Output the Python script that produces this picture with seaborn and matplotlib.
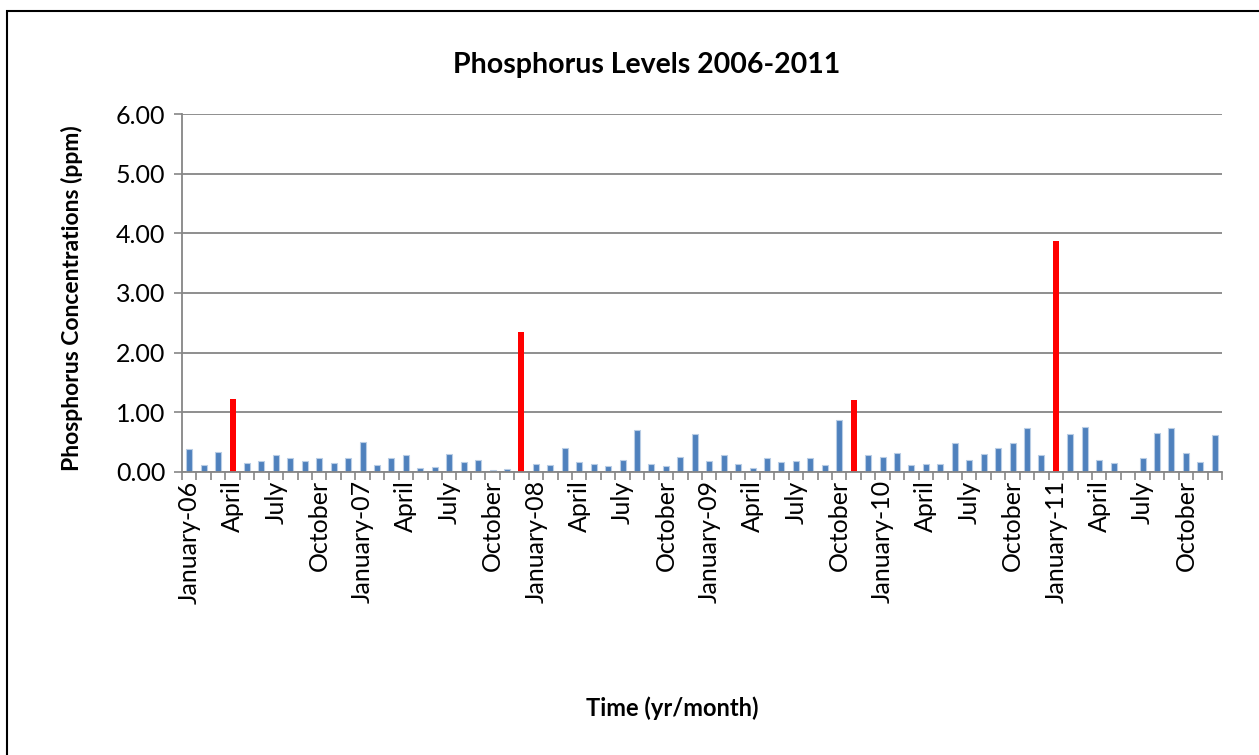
import numpy as np
import pandas as pd
import matplotlib
matplotlib.use("Agg")
import matplotlib.pyplot as plt
import seaborn as sns
from matplotlib.patches import Rectangle

# ---- data ----
years = [2006, 2007, 2008, 2009, 2010, 2011]
month_names = ["January", "February", "March", "April", "May", "June", "July",
               "August", "September", "October", "November", "December"]
values = [
    # 2006
    0.38, 0.11, 0.34, 1.23, 0.15, 0.18, 0.29, 0.24, 0.19, 0.24, 0.15, 0.24,
    # 2007
    0.51, 0.11, 0.24, 0.28, 0.07, 0.08, 0.31, 0.17, 0.20, 0.04, 0.05, 2.35,
    # 2008
    0.13, 0.12, 0.40, 0.16, 0.14, 0.10, 0.20, 0.71, 0.14, 0.10, 0.25, 0.63,
    # 2009
    0.19, 0.29, 0.13, 0.06, 0.24, 0.17, 0.19, 0.24, 0.11, 0.87, 1.20, 0.28,
    # 2010
    0.25, 0.32, 0.12, 0.13, 0.13, 0.48, 0.20, 0.30, 0.40, 0.49, 0.74, 0.29,
    # 2011
    3.87, 0.64, 0.76, 0.20, 0.15, np.nan, 0.23, 0.66, 0.74, 0.32, 0.16, 0.62,
]
highlight = [3, 23, 46, 60]   # months shown in red
y_ticks = [0, 1, 2, 3, 4, 5, 6]

months = [f"{y}-{m:02d}" for y in years for m in range(1, 13)]
tick_labels = []
for y in years:
    for m in range(12):
        if m % 3 == 0:
            tick_labels.append(f"{month_names[m]}-{str(y)[2:]}" if m == 0 else month_names[m])

df = pd.DataFrame({"month": months, "value": values})
df["group"] = ["red" if i in highlight else "blue" for i in range(len(df))]

BLUE = "#4F81BD"
RED = "#FF0000"
GRID = "#868686"

plt.rcParams["font.family"] = ["Lato", "DejaVu Sans"]

fig = plt.figure(figsize=(12.59, 7.55), dpi=100)
ax = fig.add_axes([182 / 1259, 1 - 472 / 755, (1222 - 182) / 1259, (472 - 114) / 755])

sns.barplot(data=df, x="month", y="value", hue="group",
            palette={"blue": BLUE, "red": RED}, dodge=False, width=0.42,
            legend=False, ax=ax, saturation=1)

for p in ax.patches:
    if matplotlib.colors.to_hex(p.get_facecolor()).lower() == BLUE.lower():
        p.set_edgecolor("#B9CDE5")
        p.set_linewidth(0.8)

n = len(months)
ax.set_xlim(-0.5, n - 0.5)
ax.set_ylim(0, 6)
ax.set_yticks(y_ticks)
ax.set_yticklabels([f"{v:.2f}" for v in y_ticks], fontsize=18)
ax.set_xticks(np.arange(0, n, 3))
ax.set_xticklabels(tick_labels, rotation=90, fontsize=18, va="top", ha="center")
ax.set_xticks(np.arange(-0.5, n, 1), minor=True)
ax.tick_params(axis="x", which="major", length=0, pad=6)
ax.tick_params(axis="x", which="minor", length=6, width=1.2, color=GRID, direction="out")
ax.tick_params(axis="y", length=6, width=1.2, color=GRID, direction="out", pad=6)

ax.yaxis.grid(True, color=GRID, linewidth=1.3)
ax.set_axisbelow(True)
for s in ["top", "right"]:
    ax.spines[s].set_visible(False)
for s in ["left", "bottom"]:
    ax.spines[s].set_color(GRID)
    ax.spines[s].set_linewidth(1.3)

ax.set_xlabel("")
ax.set_ylabel("")
fig.text(647 / 1259, 1 - 65 / 755, "Phosphorus Levels 2006-2011", fontsize=20.5,
         fontweight="bold", ha="center", va="center")
fig.text(72 / 1259, 1 - 298 / 755, "Phosphorus Concentrations (ppm)", fontsize=16.5,
         fontweight="bold", ha="center", va="center", rotation=90)
fig.text(672 / 1259, 1 - 708 / 755, "Time (yr/month)", fontsize=17,
         fontweight="bold", ha="center", va="center")

fig.patches.append(Rectangle((7 / 1259, -0.2), 1.2, 0.2 + (1 - 11 / 755),
                             transform=fig.transFigure, fill=False,
                             edgecolor="black", linewidth=1.5, clip_on=False))

fig.savefig("out.png", dpi=100)
